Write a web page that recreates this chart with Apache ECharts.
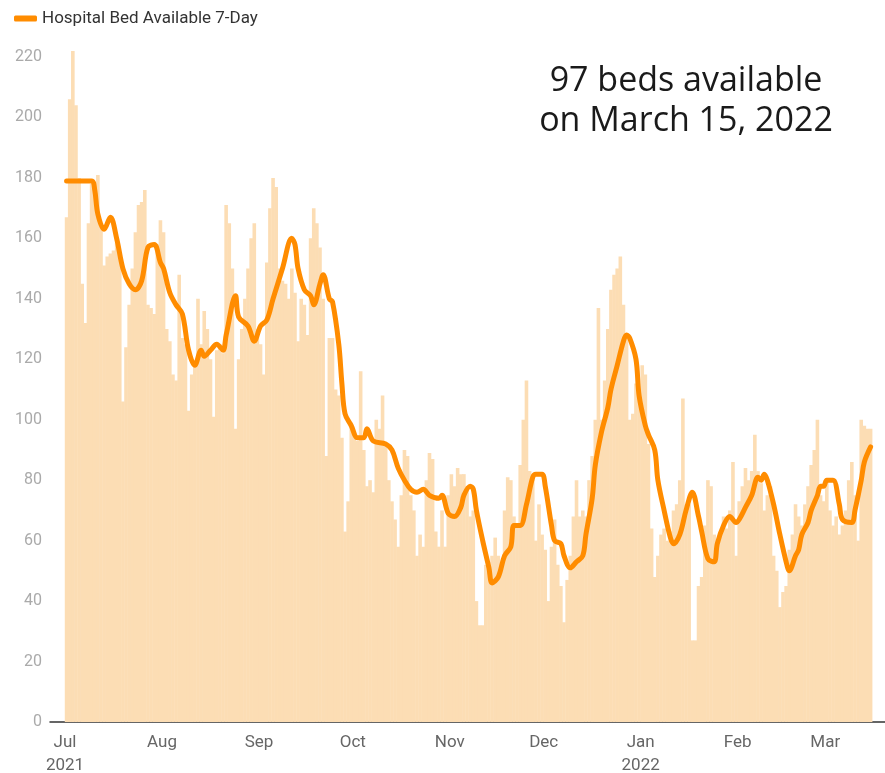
<!DOCTYPE html>
<html>
<head>
<meta charset="utf-8">
<title>Hospital Bed Available</title>
<script src="https://cdn.jsdelivr.net/npm/echarts@6/dist/echarts.min.js"></script>
<style>
  html, body { margin: 0; padding: 0; background: #fff; }
  #main { width: 885px; height: 773px; }
</style>
</head>
<body>
<div id="main"></div>
<script>
// daily available beds, Jul 1 2021 -> Mar 15 2022 (one value per day)
var dailyBeds = [
  167, 206, 222, 204, 180, 145, 132, 165, 178, 176,
  181, 165, 151, 154, 155, 156, 160, 155, 106, 124,
  138, 150, 162, 171, 172, 176, 138, 137, 135, 158,
  166, 162, 130, 126, 115, 113, 148, 127, 125, 103,
  115, 118, 140, 125, 136, 130, 120, 101, 123, 125,
  122, 171, 165, 150, 97, 120, 130, 140, 150, 160,
  165, 130, 125, 115, 152, 170, 180, 177, 150, 146,
  145, 140, 150, 142, 126, 140, 138, 128, 160, 170,
  165, 157, 140, 88, 127, 127, 110, 108, 94, 63,
  73, 99, 95, 93, 116, 90, 78, 80, 76, 100,
  97, 108, 92, 80, 73, 67, 58, 75, 90, 88,
  75, 70, 55, 62, 58, 80, 89, 87, 63, 58,
  70, 58, 75, 82, 78, 84, 82, 82, 78, 68,
  70, 40, 32, 32, 52, 53, 55, 61, 55, 52,
  70, 81, 80, 68, 65, 85, 100, 113, 83, 82,
  60, 72, 62, 57, 40, 58, 67, 52, 45, 33,
  47, 55, 68, 80, 68, 70, 68, 80, 88, 100,
  137, 100, 113, 130, 143, 148, 150, 154, 138, 128,
  100, 102, 112, 108, 118, 115, 92, 64, 48, 55,
  62, 64, 60, 63, 70, 72, 80, 107, 72, 72,
  27, 27, 45, 48, 65, 80, 78, 62, 58, 63,
  68, 64, 70, 86, 55, 73, 78, 84, 80, 83,
  95, 83, 79, 70, 75, 78, 55, 50, 38, 43,
  45, 57, 62, 72, 68, 65, 72, 78, 85, 90,
  100, 75, 73, 80, 70, 65, 68, 62, 65, 70,
  80, 86, 75, 60, 100, 98, 97, 97
];

// 7-day line, read at these day indexes
var avgDays = [
  0, 8, 9, 10, 12, 14, 16, 18, 20, 22, 24, 26, 28, 30, 31, 33, 35, 37, 39, 41,
  43, 44, 46, 48, 50, 51, 54, 55, 58, 60, 62, 64, 66, 69, 72, 73, 74, 76, 78, 79,
  81, 82, 84, 85, 87, 88, 89, 91, 93, 95, 96, 98, 102, 104, 106, 108, 110, 112, 114, 116,
  119, 120, 122, 124, 126, 127, 129, 130, 131, 133, 135, 136, 138, 140, 142, 143, 145, 147, 149, 150,
  152, 153, 155, 156, 158, 159, 161, 163, 165, 166, 168, 169, 171, 173, 174, 176, 178, 179, 180, 182,
  183, 185, 186, 188, 189, 191, 193, 194, 196, 198, 200, 202, 203, 205, 207, 208, 210, 212, 214, 215,
  217, 219, 221, 222, 223, 224, 226, 228, 230, 231, 233, 234, 235, 237, 238, 240, 241, 242, 243, 245,
  247, 248, 251, 252, 254, 255, 257
];
var avgBeds = [
  179, 179, 176, 168, 163, 167, 160, 150, 145, 143, 146, 157, 158, 152, 150, 142, 138, 135, 123, 118,
  123, 121, 123, 125, 123, 128, 141, 134, 131, 126, 131, 133, 140, 150, 160, 158, 150, 143, 141, 138,
  145, 148, 140, 139, 125, 112, 102, 98, 94, 94, 97, 93, 92, 90, 84, 80, 77, 76, 77, 75,
  74, 75, 69, 68, 71, 75, 78, 77, 70, 60, 51, 46, 48, 55, 58, 65, 65, 72, 81, 82,
  82, 78, 65, 60, 59, 55, 51, 53, 55, 62, 74, 85, 96, 104, 110, 118, 126, 128, 127, 120,
  108, 98, 95, 90, 80, 70, 61, 59, 62, 70, 76, 68, 63, 54, 53, 59, 65, 68, 66, 67,
  71, 75, 81, 80, 82, 80, 72, 62, 53, 50, 55, 57, 62, 66, 70, 75, 78, 78, 80, 80,
  72, 67, 66, 70, 80, 86, 91
];

// month ticks: day index of the 1st of each month
var monthDays = [0, 31, 62, 92, 123, 153, 184, 215, 243];
var monthLabels = ['Jul\n2021', 'Aug', 'Sep', 'Oct', 'Nov', 'Dec', 'Jan\n2022', 'Feb', 'Mar'];

var barData = dailyBeds.map(function (v, i) { return [i + 0.5, v]; });
var lineData = avgDays.map(function (d, i) { return [d + 0.5, avgBeds[i]]; });

var chart = echarts.init(document.getElementById('main'), null, { renderer: 'canvas' });

var option = {
    animation: false,
    textStyle: { fontFamily: 'Roboto, sans-serif' },
    legend: {
        data: ['Hospital Bed Available 7-Day'],
        left: 9,
        top: 5,
        icon: 'roundRect',
        itemWidth: 23,
        itemHeight: 6,
        textStyle: { fontSize: 17, color: '#333', fontFamily: 'Roboto' }
    },
    // v6 would shrink the grid to fit labels; keep the plot where the reference has it
    grid: { left: 50, right: 0, top: 57, bottom: 51, outerBoundsMode: 'none' },
    xAxis: {
        type: 'value',
        min: -4.8,
        max: 262.1,
        axisLine: { show: true, lineStyle: { color: '#333', width: 1.5 } },
        axisTick: { show: false },
        splitLine: { show: false },
        axisLabel: {
            customValues: monthDays,
            formatter: function (v) {
                var k = monthDays.indexOf(v);
                return k >= 0 ? monthLabels[k] : '';
            },
            color: '#666',
            fontSize: 17,
            lineHeight: 23,
            margin: 9
        }
    },
    yAxis: {
        type: 'value',
        min: 0,
        max: 220,
        interval: 20,
        axisLine: { show: false },
        axisTick: { show: false },
        splitLine: { show: false },
        axisLabel: { color: '#aaa', fontSize: 16, margin: 8 }
    },
    graphic: [{
        type: 'text',
        x: 686,
        y: 61,
        style: {
            text: '97 beds available\non March 15, 2022',
            align: 'center',
            verticalAlign: 'top',
            fontSize: 34,
            lineHeight: 40,
            fontFamily: '"Open Sans", sans-serif',
            fill: '#1a1a1a'
        }
    }],
    series: [
        {
            name: 'Hospital Bed Daily',
            type: 'bar',
            data: barData,
            barWidth: 3.6,
            clip: false,
            itemStyle: { color: '#FCDDB4' },
            emphasis: { disabled: true }
        },
        {
            name: 'Hospital Bed Available 7-Day',
            type: 'line',
            data: lineData,
            smooth: 0.35,
            showSymbol: false,
            clip: false,
            itemStyle: { color: '#FF8C00' },
            lineStyle: { color: '#FF8C00', width: 5, cap: 'round', join: 'round' },
            z: 5
        }
    ]
};

chart.setOption(option);
</script>
</body>
</html>
